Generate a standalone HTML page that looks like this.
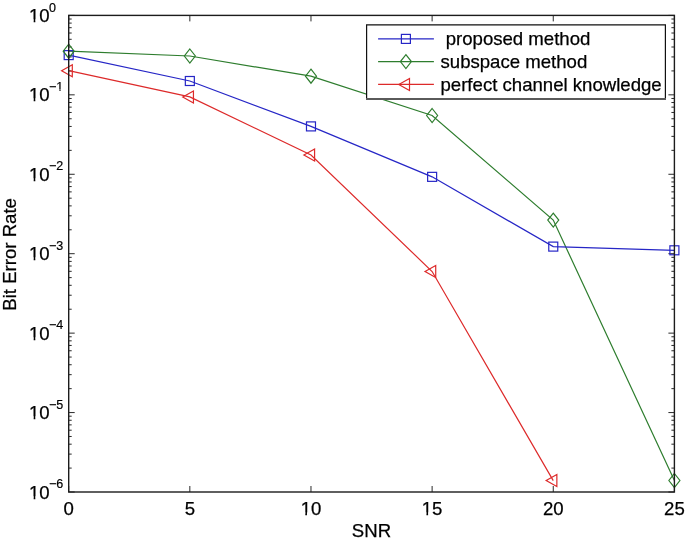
<!DOCTYPE html>
<html><head><meta charset="utf-8"><style>
html,body{margin:0;padding:0;background:#fff;}
svg{display:block;will-change:transform;}
.t{font-family:"Liberation Sans",sans-serif;font-size:18.6px;fill:#000;stroke:#000;stroke-width:0.25px;}
.s{font-family:"Liberation Sans",sans-serif;font-size:12.5px;fill:#000;stroke:#000;stroke-width:0.2px;}
</style></head><body>
<svg width="685" height="541" viewBox="0 0 685 541">
<rect width="685" height="541" fill="#fff"/>
<path d="M68.70,492.00V486.00M68.70,15.40V21.40M189.84,492.00V486.00M189.84,15.40V21.40M310.98,492.00V486.00M310.98,15.40V21.40M432.12,492.00V486.00M432.12,15.40V21.40M553.26,492.00V486.00M553.26,15.40V21.40M674.40,492.00V486.00M674.40,15.40V21.40M68.70,15.40H74.70M674.40,15.40H668.40M68.70,70.92H71.70M674.40,70.92H671.40M68.70,56.93H71.70M674.40,56.93H671.40M68.70,47.01H71.70M674.40,47.01H671.40M68.70,39.31H71.70M674.40,39.31H671.40M68.70,33.02H71.70M674.40,33.02H671.40M68.70,27.70H71.70M674.40,27.70H671.40M68.70,23.10H71.70M674.40,23.10H671.40M68.70,19.03H71.70M674.40,19.03H671.40M68.70,94.83H74.70M674.40,94.83H668.40M68.70,150.35H71.70M674.40,150.35H671.40M68.70,136.37H71.70M674.40,136.37H671.40M68.70,126.44H71.70M674.40,126.44H671.40M68.70,118.75H71.70M674.40,118.75H671.40M68.70,112.46H71.70M674.40,112.46H671.40M68.70,107.14H71.70M674.40,107.14H671.40M68.70,102.53H71.70M674.40,102.53H671.40M68.70,98.47H71.70M674.40,98.47H671.40M68.70,174.27H74.70M674.40,174.27H668.40M68.70,229.79H71.70M674.40,229.79H671.40M68.70,215.80H71.70M674.40,215.80H671.40M68.70,205.88H71.70M674.40,205.88H671.40M68.70,198.18H71.70M674.40,198.18H671.40M68.70,191.89H71.70M674.40,191.89H671.40M68.70,186.57H71.70M674.40,186.57H671.40M68.70,181.96H71.70M674.40,181.96H671.40M68.70,177.90H71.70M674.40,177.90H671.40M68.70,253.70H74.70M674.40,253.70H668.40M68.70,309.22H71.70M674.40,309.22H671.40M68.70,295.23H71.70M674.40,295.23H671.40M68.70,285.31H71.70M674.40,285.31H671.40M68.70,277.61H71.70M674.40,277.61H671.40M68.70,271.32H71.70M674.40,271.32H671.40M68.70,266.00H71.70M674.40,266.00H671.40M68.70,261.40H71.70M674.40,261.40H671.40M68.70,257.33H71.70M674.40,257.33H671.40M68.70,333.13H74.70M674.40,333.13H668.40M68.70,388.65H71.70M674.40,388.65H671.40M68.70,374.67H71.70M674.40,374.67H671.40M68.70,364.74H71.70M674.40,364.74H671.40M68.70,357.05H71.70M674.40,357.05H671.40M68.70,350.76H71.70M674.40,350.76H671.40M68.70,345.44H71.70M674.40,345.44H671.40M68.70,340.83H71.70M674.40,340.83H671.40M68.70,336.77H71.70M674.40,336.77H671.40M68.70,412.57H74.70M674.40,412.57H668.40M68.70,468.09H71.70M674.40,468.09H671.40M68.70,454.10H71.70M674.40,454.10H671.40M68.70,444.18H71.70M674.40,444.18H671.40M68.70,436.48H71.70M674.40,436.48H671.40M68.70,430.19H71.70M674.40,430.19H671.40M68.70,424.87H71.70M674.40,424.87H671.40M68.70,420.26H71.70M674.40,420.26H671.40M68.70,416.20H71.70M674.40,416.20H671.40M68.70,492.00H74.70M674.40,492.00H668.40" stroke="#2a2a2a" stroke-width="1" fill="none"/>
<polyline points="68.70,51.20 189.84,56.00 310.98,76.20 432.12,115.50 553.26,220.10 674.40,480.50" stroke="#2e7d2e" stroke-width="1.2" fill="none"/>
<polyline points="68.70,55.10 189.84,81.00 310.98,126.40 432.12,176.85 553.26,246.60 674.40,250.30" stroke="#2626c6" stroke-width="1.2" fill="none"/>
<polyline points="68.70,70.70 189.84,96.90 310.98,155.00 432.12,271.50 553.26,480.60" stroke="#dd2a2a" stroke-width="1.2" fill="none"/>
<rect x="64.20" y="50.60" width="9.0" height="9.0" stroke="#2626c6" stroke-width="1.2" fill="none"/>
<rect x="185.34" y="76.50" width="9.0" height="9.0" stroke="#2626c6" stroke-width="1.2" fill="none"/>
<rect x="306.48" y="121.90" width="9.0" height="9.0" stroke="#2626c6" stroke-width="1.2" fill="none"/>
<rect x="427.62" y="172.35" width="9.0" height="9.0" stroke="#2626c6" stroke-width="1.2" fill="none"/>
<rect x="548.76" y="242.10" width="9.0" height="9.0" stroke="#2626c6" stroke-width="1.2" fill="none"/>
<rect x="669.90" y="245.80" width="9.0" height="9.0" stroke="#2626c6" stroke-width="1.2" fill="none"/>
<path d="M68.70,44.20L74.20,51.20L68.70,58.20L63.20,51.20Z" stroke="#2e7d2e" stroke-width="1.2" fill="none"/>
<path d="M189.84,49.00L195.34,56.00L189.84,63.00L184.34,56.00Z" stroke="#2e7d2e" stroke-width="1.2" fill="none"/>
<path d="M310.98,69.20L316.48,76.20L310.98,83.20L305.48,76.20Z" stroke="#2e7d2e" stroke-width="1.2" fill="none"/>
<path d="M432.12,108.50L437.62,115.50L432.12,122.50L426.62,115.50Z" stroke="#2e7d2e" stroke-width="1.2" fill="none"/>
<path d="M553.26,213.10L558.76,220.10L553.26,227.10L547.76,220.10Z" stroke="#2e7d2e" stroke-width="1.2" fill="none"/>
<path d="M674.40,473.50L679.90,480.50L674.40,487.50L668.90,480.50Z" stroke="#2e7d2e" stroke-width="1.2" fill="none"/>
<path d="M61.60,70.70L72.30,64.70L72.30,76.70Z" stroke="#dd2a2a" stroke-width="1.2" fill="none"/>
<path d="M182.74,96.90L193.44,90.90L193.44,102.90Z" stroke="#dd2a2a" stroke-width="1.2" fill="none"/>
<path d="M303.88,155.00L314.58,149.00L314.58,161.00Z" stroke="#dd2a2a" stroke-width="1.2" fill="none"/>
<path d="M425.02,271.50L435.72,265.50L435.72,277.50Z" stroke="#dd2a2a" stroke-width="1.2" fill="none"/>
<path d="M546.16,480.60L556.86,474.60L556.86,486.60Z" stroke="#dd2a2a" stroke-width="1.2" fill="none"/>
<rect x="68.70" y="15.40" width="605.70" height="476.60" stroke="#1c1c1c" stroke-width="1.4" fill="none"/>
<rect x="366.6" y="24.8" width="298.80" height="73.40" fill="#fff" stroke="none"/>
<path d="M366.6,99.2V24.8H665.4V99.2" stroke="#111" stroke-width="1.2" fill="none"/>
<path d="M366.0,98.9H666.0" stroke="#5a5a5a" stroke-width="2"/>
<path d="M378.1,38.9H433.9" stroke="#2626c6" stroke-width="1.2"/>
<rect x="401.40" y="34.40" width="9.0" height="9.0" stroke="#2626c6" stroke-width="1.2" fill="none"/>
<path d="M378.1,61.6H433.9" stroke="#2e7d2e" stroke-width="1.2"/>
<path d="M405.90,54.60L411.40,61.60L405.90,68.60L400.40,61.60Z" stroke="#2e7d2e" stroke-width="1.2" fill="none"/>
<path d="M378.1,84.4H433.9" stroke="#dd2a2a" stroke-width="1.2"/>
<path d="M398.80,84.40L409.50,78.40L409.50,90.40Z" stroke="#dd2a2a" stroke-width="1.2" fill="none"/>
<text x="440.5" y="45.2" class="t"> proposed method</text>
<text x="440.5" y="68.3" class="t">subspace method</text>
<text x="440.5" y="91.3" class="t">perfect channel knowledge</text>
<text x="68.70" y="514.6" class="t" text-anchor="middle">0</text>
<text x="189.84" y="514.6" class="t" text-anchor="middle">5</text>
<text x="310.98" y="514.6" class="t" text-anchor="middle">10</text>
<text x="432.12" y="514.6" class="t" text-anchor="middle">15</text>
<text x="553.26" y="514.6" class="t" text-anchor="middle">20</text>
<text x="674.40" y="514.6" class="t" text-anchor="middle">25</text>
<text x="371.5" y="537" class="t" text-anchor="middle">SNR</text>
<text x="29.0" y="21.90" class="t">10</text>
<text x="49.00" y="11.50" class="s">0</text>
<text x="29.0" y="101.33" class="t">10</text>
<text x="49.00" y="90.93" class="s">−1</text>
<text x="29.0" y="180.77" class="t">10</text>
<text x="49.00" y="170.37" class="s">−2</text>
<text x="29.0" y="260.20" class="t">10</text>
<text x="49.00" y="249.80" class="s">−3</text>
<text x="29.0" y="339.63" class="t">10</text>
<text x="49.00" y="329.23" class="s">−4</text>
<text x="29.0" y="419.07" class="t">10</text>
<text x="49.00" y="408.67" class="s">−5</text>
<text x="29.0" y="498.50" class="t">10</text>
<text x="49.00" y="488.10" class="s">−6</text>
<text transform="translate(15.8,254.4) rotate(-90)" class="t" text-anchor="middle">Bit Error Rate</text>
<rect x="301.18" y="512.40" width="4.13" height="3.60" fill="#fff"/>
<rect x="306.96" y="512.40" width="3.94" height="3.60" fill="#fff"/>
<rect x="422.32" y="512.40" width="4.13" height="3.60" fill="#fff"/>
<rect x="428.10" y="512.40" width="3.94" height="3.60" fill="#fff"/>
<rect x="29.54" y="19.40" width="4.13" height="3.60" fill="#fff"/>
<rect x="35.32" y="19.40" width="3.94" height="3.60" fill="#fff"/>
<rect x="29.54" y="98.40" width="4.13" height="3.60" fill="#fff"/>
<rect x="35.32" y="98.40" width="3.94" height="3.60" fill="#fff"/>
<rect x="56.67" y="89.30" width="2.78" height="2.70" fill="#fff"/>
<rect x="60.55" y="89.30" width="2.65" height="2.70" fill="#fff"/>
<rect x="29.54" y="178.40" width="4.13" height="3.60" fill="#fff"/>
<rect x="35.32" y="178.40" width="3.94" height="3.60" fill="#fff"/>
<rect x="29.54" y="257.40" width="4.13" height="3.60" fill="#fff"/>
<rect x="35.32" y="257.40" width="3.94" height="3.60" fill="#fff"/>
<rect x="29.54" y="337.40" width="4.13" height="3.60" fill="#fff"/>
<rect x="35.32" y="337.40" width="3.94" height="3.60" fill="#fff"/>
<rect x="29.54" y="416.40" width="4.13" height="3.60" fill="#fff"/>
<rect x="35.32" y="416.40" width="3.94" height="3.60" fill="#fff"/>
<rect x="29.54" y="496.40" width="4.13" height="3.60" fill="#fff"/>
<rect x="35.32" y="496.40" width="3.94" height="3.60" fill="#fff"/>
</svg>
</body></html>
